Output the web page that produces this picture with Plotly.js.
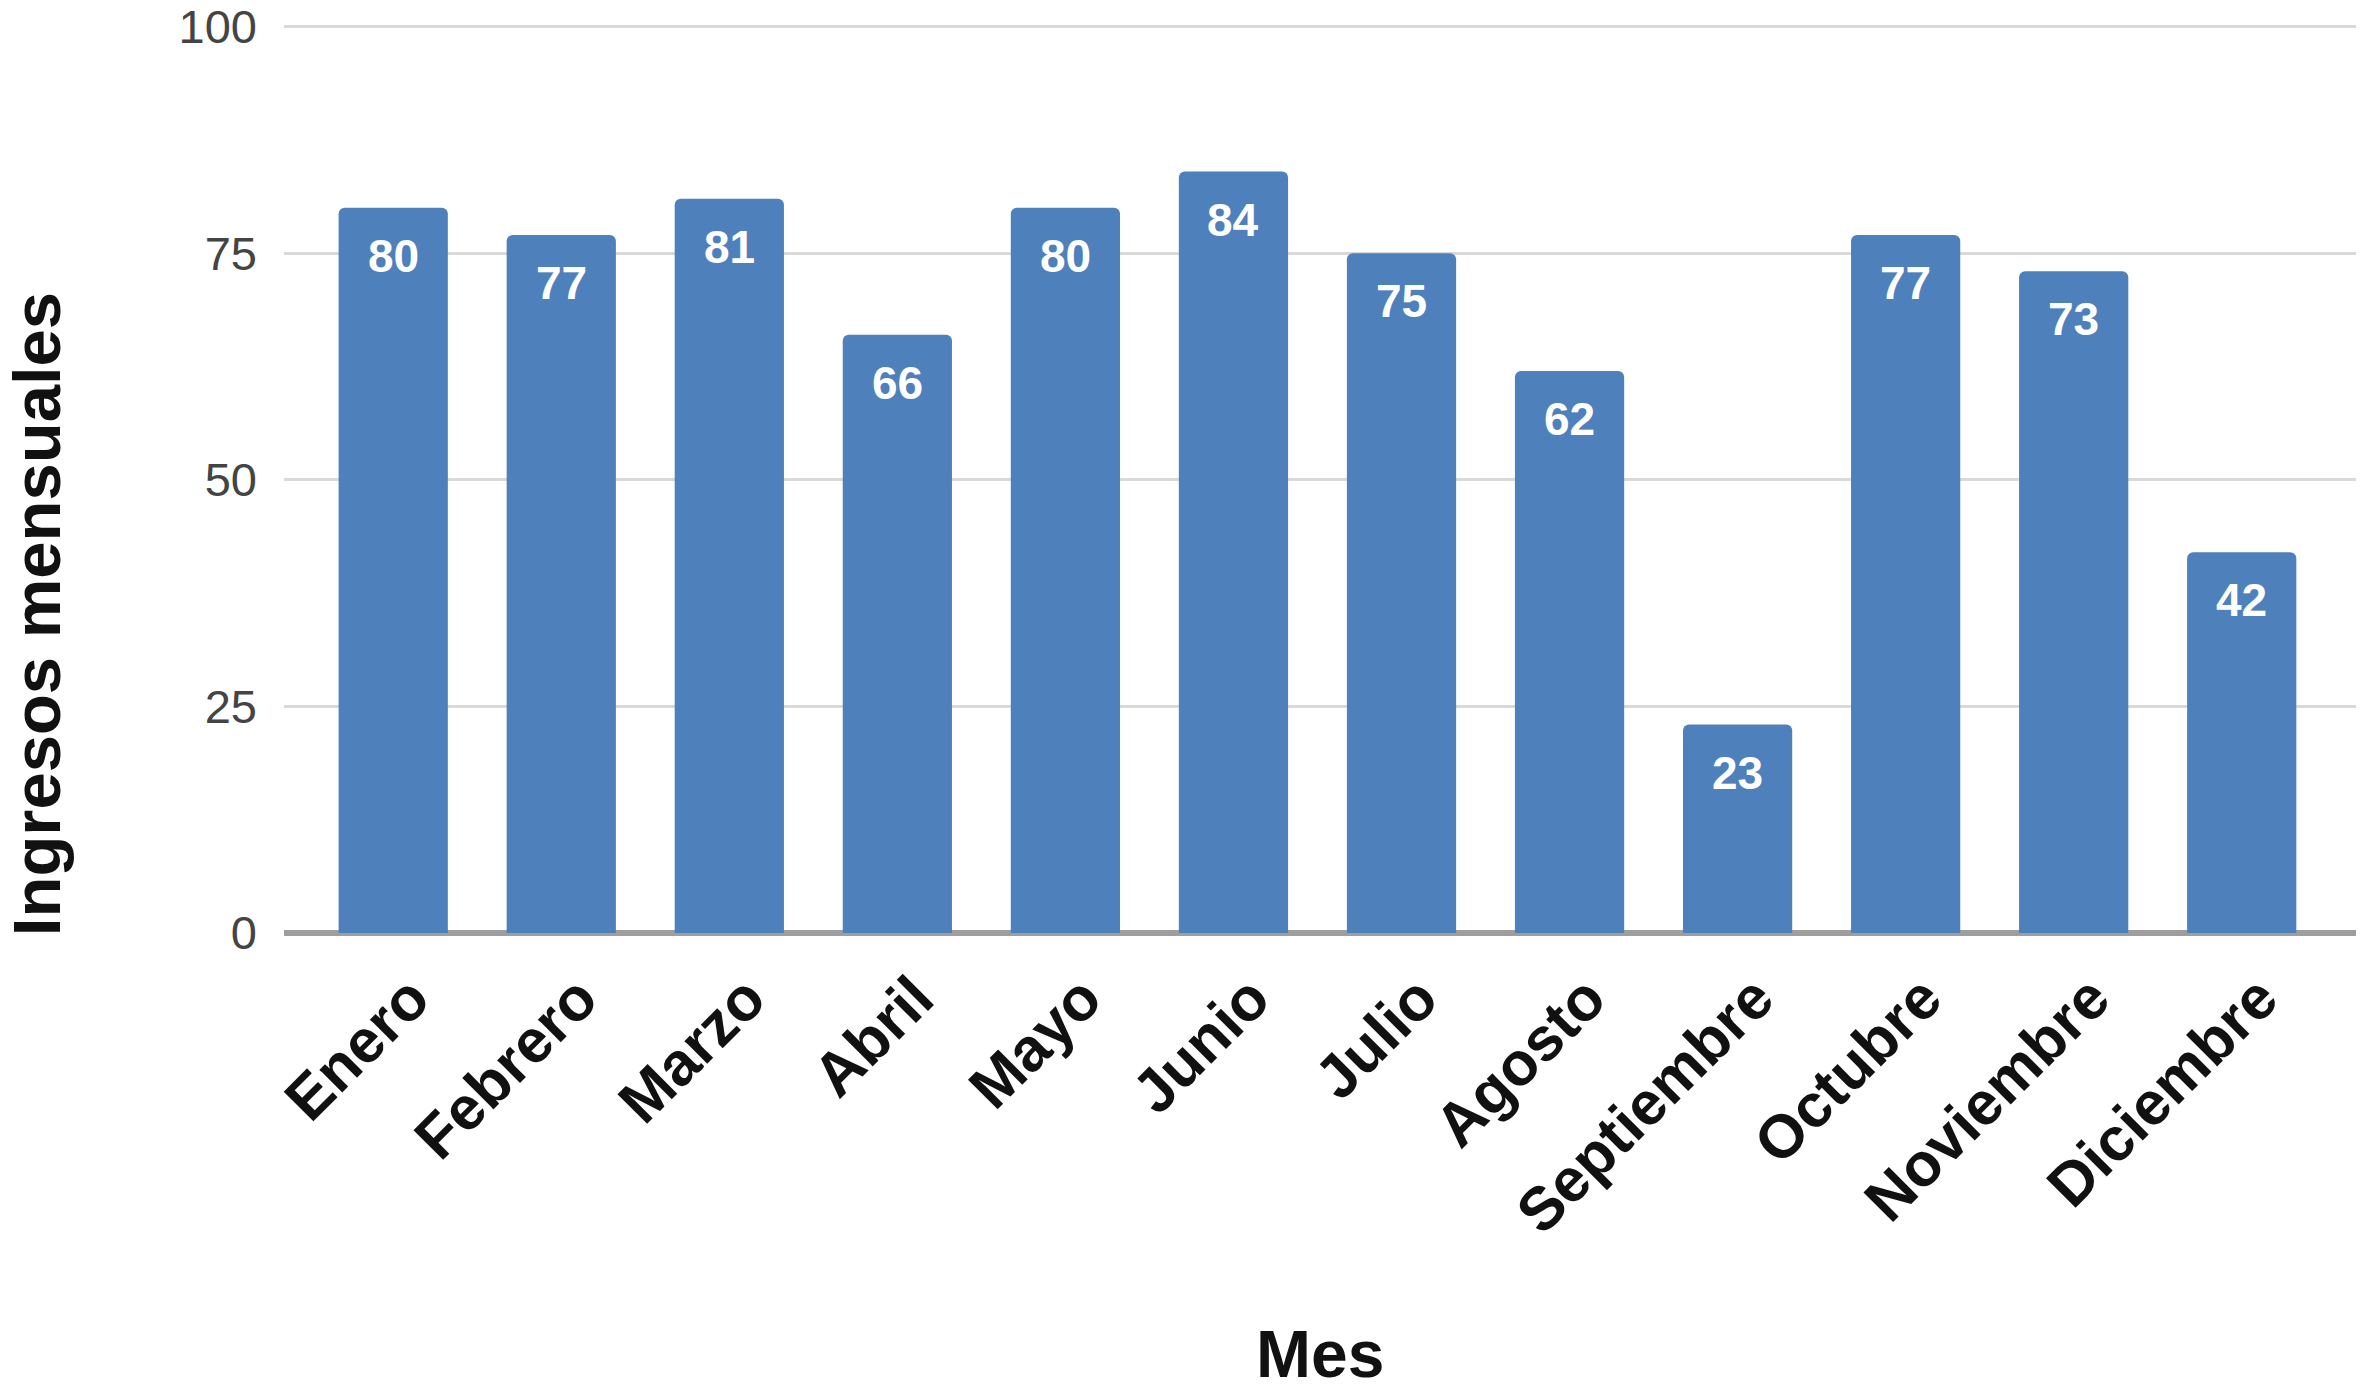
<!DOCTYPE html>
<html>
<head>
<meta charset="utf-8">
<script src="https://cdn.plot.ly/plotly-3.0.1.min.js"></script>
<style>
html,body{margin:0;padding:0;background:#ffffff;}
#chart{width:2368px;height:1392px;}
</style>
</head>
<body>
<div id="chart"></div>
<script>
const meses = ["Enero","Febrero","Marzo","Abril","Mayo","Junio","Julio","Agosto","Septiembre","Octubre","Noviembre","Diciembre"];
const ingresos = [80, 77, 81, 66, 80, 84, 75, 62, 23, 77, 73, 42];
const yTicks = [0, 25, 50, 75, 100];
const xTitle = "Mes";
const yTitle = "Ingresos mensuales";

const FONT = "Liberation Sans, Arial, Helvetica, sans-serif";

const trace = {
  type: "bar",
  x: meses,
  y: ingresos,
  marker: {color: "#4e80bc", cornerradius: 6},
  hoverinfo: "x+y"
};

const valueLabels = meses.map((m, i) => ({
  x: m, y: ingresos[i], xref: "x", yref: "y",
  text: String(ingresos[i]),
  showarrow: false,
  yanchor: "top",
  yshift: -20,
  font: {family: FONT, size: 46, color: "#ffffff", weight: "bold"}
}));

const layout = {
  width: 2368,
  height: 1392,
  paper_bgcolor: "#ffffff",
  plot_bgcolor: "#ffffff",
  margin: {l: 284, r: 12, t: 22, b: 459, pad: 0},
  bargap: 0.35,
  showlegend: false,
  font: {family: FONT},
  xaxis: {
    type: "category",
    range: [-0.65, 11.68],
    tickangle: -45,
    tickfont: {family: FONT, size: 61, color: "#111111", weight: "bold"},
    ticklabelshift: 18,
    ticklabelstandoff: 16,
    showgrid: false,
    showline: false,
    ticks: "",
    fixedrange: true
  },
  yaxis: {
    range: [0, 100.5],
    tickvals: yTicks,
    ticktext: yTicks.map(String),
    tickfont: {family: FONT, size: 47, color: "#444444"},
    ticklabeloverflow: "allow",
    showgrid: true,
    gridcolor: "#d9d9d9",
    gridwidth: 2.5,
    zeroline: true,
    zerolinecolor: "#9e9e9e",
    zerolinewidth: 6,
    showline: false,
    ticks: "",
    ticklabelstandoff: 26,
    fixedrange: true
  },
  annotations: valueLabels.concat([
    {
      text: yTitle, textangle: -90, showarrow: false,
      xref: "paper", yref: "paper", x: 0, xshift: -248, y: 0.35,
      xanchor: "center", yanchor: "middle",
      font: {family: FONT, size: 67, color: "#111111", weight: "bold"}
    },
    {
      text: xTitle, showarrow: false,
      xref: "paper", yref: "paper", x: 0.5, y: -0.462,
      xanchor: "center", yanchor: "middle",
      font: {family: FONT, size: 66, color: "#111111", weight: "bold"}
    }
  ])
};

Plotly.newPlot("chart", [trace], layout, {displayModeBar: false, staticPlot: false});
</script>
</body>
</html>
